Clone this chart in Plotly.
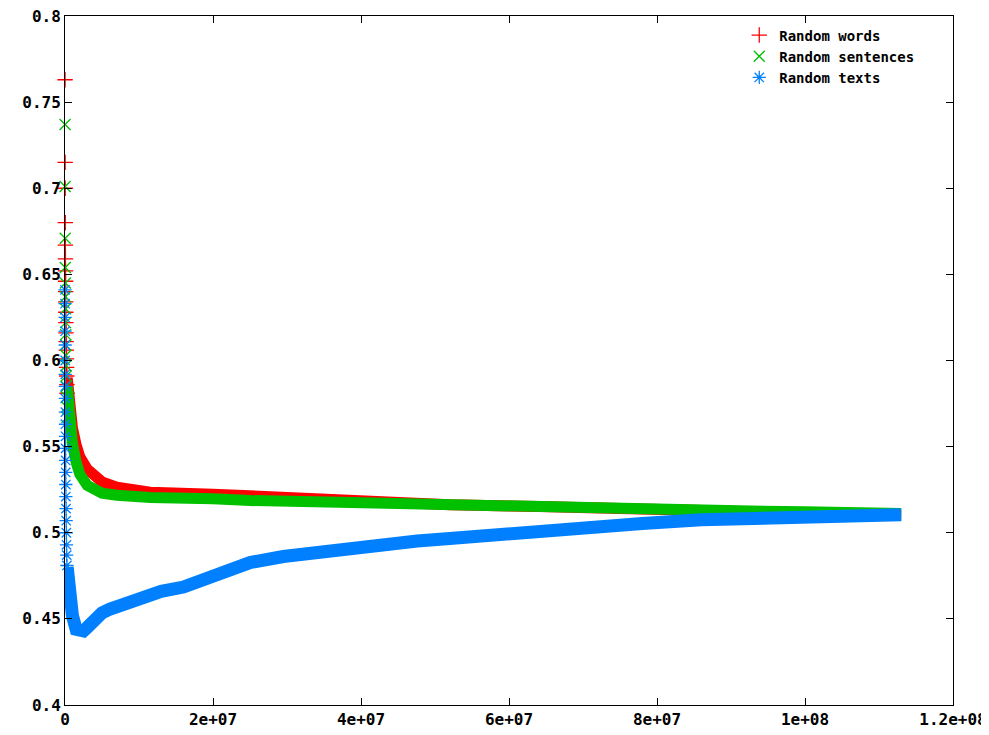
import plotly.graph_objects as go

# ---- data ----
# early (near x = 0) scattered points
words_spike_x = [10000, 20000, 30000, 40000, 50000, 60000, 70000, 80000, 90000, 100000,
                 110000, 120000, 140000, 160000, 180000, 200000, 220000, 240000, 260000, 280000]
words_spike_y = [0.763, 0.715, 0.700, 0.680, 0.667, 0.659, 0.652, 0.646, 0.640, 0.634,
                 0.628, 0.622, 0.616, 0.611, 0.606, 0.601, 0.596, 0.591, 0.586, 0.581]

sent_spike_x = [10000, 20000, 30000, 40000, 50000, 60000, 70000, 80000, 90000, 100000,
                120000, 140000, 160000, 180000, 200000, 230000, 260000]
sent_spike_y = [0.737, 0.701, 0.671, 0.654, 0.645, 0.637, 0.630, 0.622, 0.615, 0.609,
                0.603, 0.597, 0.591, 0.585, 0.579, 0.573, 0.567]

texts_spike_x = [5000, 10000, 15000, 20000, 25000, 30000, 35000, 40000, 45000, 50000,
                 60000, 70000, 80000, 90000, 100000, 110000, 120000, 140000, 160000, 180000,
                 200000, 230000, 260000]
texts_spike_y = [0.641, 0.633, 0.625, 0.617, 0.609, 0.600, 0.592, 0.585, 0.578, 0.570,
                 0.563, 0.556, 0.549, 0.542, 0.535, 0.528, 0.521, 0.514, 0.507, 0.500,
                 0.493, 0.487, 0.481]

# main converging curves
words_x = [0.3e6, 0.6e6, 1e6, 1.5e6, 2e6, 3e6, 4e6, 5e6, 7e6, 11.5e6, 20e6, 29e6, 38.6e6,
           43e6, 52e6, 64e6, 78e6, 91e6, 100e6, 110e6, 113e6]
words_y = [0.590, 0.575, 0.561, 0.551, 0.544, 0.537, 0.5325, 0.5295, 0.5265, 0.5235, 0.5224,
           0.5205, 0.5185, 0.5172, 0.5163, 0.5152, 0.5138, 0.5125, 0.5115, 0.5106, 0.5102]

sent_x = [0.3e6, 0.6e6, 1e6, 1.5e6, 2e6, 3e6, 4e6, 5e6, 7e6, 11.5e6, 20e6, 25e6, 38.6e6,
          52e6, 64e6, 78e6, 91e6, 100e6, 110e6, 113e6]
sent_y = [0.585, 0.566, 0.552, 0.541, 0.534, 0.5275, 0.5245, 0.523, 0.5218, 0.5205, 0.5197,
          0.5187, 0.5176, 0.5161, 0.5146, 0.5138, 0.5127, 0.5122, 0.5115, 0.5112]

texts_x = [0.3e6, 0.6e6, 1e6, 1.5e6, 2e6, 2.5e6, 3e6, 4e6, 5e6, 6e6, 7e6, 8.5e6, 10e6, 11.5e6,
           13e6, 16e6, 18e6, 20.5e6, 25e6, 29.5e6, 34e6, 38.6e6, 43e6, 47.6e6, 52e6, 58e6,
           64e6, 71e6, 78e6, 86e6, 91.4e6, 99.5e6, 107e6, 113e6]
texts_y = [0.480, 0.465, 0.452, 0.444, 0.4425, 0.443, 0.445, 0.4495, 0.4535, 0.4555, 0.457,
           0.459, 0.4615, 0.464, 0.466, 0.4685, 0.4715, 0.4758, 0.4827, 0.4862, 0.4888, 0.4909,
           0.4943, 0.4952, 0.4967, 0.499, 0.5016, 0.5035, 0.5054, 0.5075, 0.508, 0.5097, 0.510,
           0.5105]

names = ["Random words", "Random sentences", "Random texts"]
colors = ["#ff0000", "#00c000", "#0080ff"]
symbols = ["cross-thin", "x-thin", "asterisk"]

x_ticks = [0, 2e7, 4e7, 6e7, 8e7, 1e8, 1.2e8]
x_tick_text = ["0", "2e+07", "4e+07", "6e+07", "8e+07", "1e+08", "1.2e+08"]
y_ticks = [0.4, 0.45, 0.5, 0.55, 0.6, 0.65, 0.7, 0.75, 0.8]
y_tick_text = ["0.4", "0.45", "0.5", "0.55", "0.6", "0.65", "0.7", "0.75", "0.8"]

series = [
    (words_spike_x, words_spike_y, words_x, words_y),
    (sent_spike_x, sent_spike_y, sent_x, sent_y),
    (texts_spike_x, texts_spike_y, texts_x, texts_y),
]

fig = go.Figure()
widths = [11, 11, 13]
for i, (sx, sy, cx, cy) in enumerate(series):
    fig.add_trace(go.Scatter(
        x=cx, y=cy, mode="lines", showlegend=False, legendgroup=names[i],
        line=dict(color=colors[i], width=widths[i]), hoverinfo="skip"))
    fig.add_trace(go.Scatter(
        x=sx, y=sy, mode="markers", name=names[i], legendgroup=names[i],
        cliponaxis=False,
        marker=dict(symbol=symbols[i], size=11, color=colors[i],
                    line=dict(color=colors[i], width=1.3))))

font_family = "DejaVu Sans Mono"
axis_common = dict(showline=True, linecolor="black", linewidth=1, mirror="ticks",
                   ticks="inside", ticklen=7, tickcolor="black", showgrid=False,
                   zeroline=False, automargin=False, ticklabeloverflow="allow")

# page body has an 8px margin, so the figure is sized to fill the window from (8, 8)
fig.update_layout(
    width=981, height=727,
    margin=dict(l=57, r=36, t=8, b=30, autoexpand=False),
    plot_bgcolor="white", paper_bgcolor="white",
    font=dict(family=font_family, size=16, color="black", weight="bold"),
    xaxis=dict(range=[0, 1.2e8], tickmode="array", tickvals=x_ticks, ticktext=x_tick_text,
               **axis_common),
    yaxis=dict(range=[0.4, 0.8], tickmode="array", tickvals=y_ticks, ticktext=y_tick_text,
               **axis_common),
    legend=dict(x=0.962, y=0.995, xanchor="right", yanchor="top",
                bgcolor="rgba(0,0,0,0)", borderwidth=0, tracegroupgap=0,
                font=dict(family=font_family, size=14, weight="bold")),
)

fig.write_html("out.html")
